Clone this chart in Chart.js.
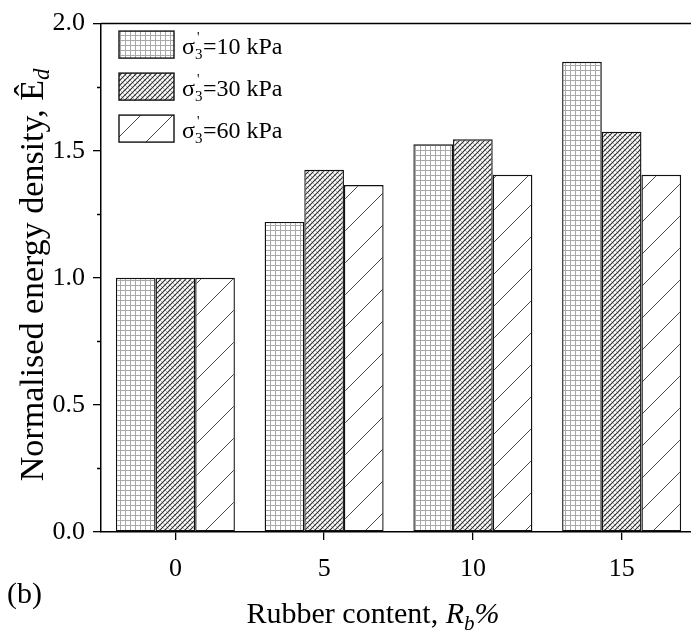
<!DOCTYPE html>
<html>
<head>
<meta charset="utf-8">
<script src="https://cdn.jsdelivr.net/npm/chart.js@4"></script>
<style>
  html, body { margin: 0; padding: 0; background: #fff; overflow: hidden; }
  #wrap { width: 700px; height: 639px; }
</style>
</head>
<body>
<div id="wrap"><canvas id="energyChart" width="700" height="639"></canvas></div>
<script>
// rubber content categories and normalised energy density per confining pressure
const rubberContent = ['0', '5', '10', '15'];
const ed10kPa = [1.0, 1.22, 1.525, 1.85];
const ed30kPa = [1.0, 1.425, 1.545, 1.575];
const ed60kPa = [1.0, 1.365, 1.405, 1.405];
const pressureLabels = ['10 kPa', '30 kPa', '60 kPa'];
const yTicks = [0, 0.5, 1.0, 1.5, 2.0];

const SERIF = '"Liberation Serif", "Times New Roman", serif';

function makePattern(size, draw) {
    const c = document.createElement('canvas');
    c.width = size;
    c.height = size;
    const g = c.getContext('2d');
    g.fillStyle = '#fff';
    g.fillRect(0, 0, size, size);
    draw(g, size);
    return c.getContext('2d').createPattern(c, 'repeat');
}

// fine square grid
const gridFill = makePattern(5, function (g, s) {
    g.strokeStyle = '#a8a8a8';
    g.lineWidth = 1;
    g.beginPath();
    g.moveTo(0.5, 0); g.lineTo(0.5, s);
    g.moveTo(0, 0.5); g.lineTo(s, 0.5);
    g.stroke();
});

// dense crosshatch
const hatchFill = makePattern(5, function (g, s) {
    g.lineWidth = 0.8;
    g.strokeStyle = '#a0a0a0';
    g.beginPath();
    g.moveTo(-1, -1); g.lineTo(s + 1, s + 1);
    g.stroke();
    g.lineWidth = 1.1;
    g.strokeStyle = '#2a2a2a';
    g.beginPath();
    g.moveTo(-1, s + 1); g.lineTo(s + 1, -1);
    g.moveTo(-3, 3); g.lineTo(3, -3);
    g.moveTo(s - 3, s + 3); g.lineTo(s + 3, s - 3);
    g.stroke();
});

// sparse forward slashes
const slashFill = makePattern(32, function (g, s) {
    g.lineWidth = 0.9;
    g.strokeStyle = '#333';
    g.beginPath();
    g.moveTo(0, s); g.lineTo(s, 0);
    g.moveTo(-4, 4); g.lineTo(4, -4);
    g.moveTo(s - 4, s + 4); g.lineTo(s + 4, s - 4);
    g.stroke();
});

const fills = [gridFill, hatchFill, slashFill];

const frameAndLegend = {
    id: 'frameAndLegend',
    afterDraw(chart) {
        const ctx = chart.ctx;
        const a = chart.chartArea;
        const y = chart.scales.y;
        ctx.save();
        ctx.strokeStyle = '#000';

        // top and right frame
        ctx.lineWidth = 1.5;
        ctx.beginPath();
        ctx.moveTo(a.left, a.top); ctx.lineTo(a.right, a.top); ctx.lineTo(a.right, a.bottom);
        ctx.stroke();

        // minor ticks on y
        ctx.lineWidth = 1.3;
        ctx.beginPath();
        for (let v = 0.25; v < 2; v += 0.5) {
            const py = Math.round(y.getPixelForValue(v)) + 0.5;
            ctx.moveTo(a.left, py); ctx.lineTo(a.left - 4, py);
        }
        ctx.stroke();

        // legend
        const bx = a.left + 18, bw = 55, bh = 27;
        pressureLabels.forEach(function (lab, i) {
            const by = a.top + 7.5 + i * 42;
            ctx.fillStyle = fills[i];
            ctx.fillRect(bx, by, bw, bh);
            ctx.lineWidth = 1.4;
            ctx.strokeStyle = '#111';
            ctx.strokeRect(bx, by, bw, bh);

            const tx = bx + 63, base = by + 23;
            ctx.fillStyle = '#000';
            ctx.textBaseline = 'alphabetic';
            ctx.textAlign = 'left';
            ctx.font = '24px ' + SERIF;
            ctx.fillText('σ', tx, base);
            const ws = ctx.measureText('σ').width;
            ctx.font = '15px ' + SERIF;
            ctx.fillText('3', tx + ws, base + 5);
            ctx.font = '14px ' + SERIF;
            ctx.fillText("'", tx + ws + 2, base - 12);
            ctx.font = '24px ' + SERIF;
            ctx.fillText('=' + lab, tx + ws + 8, base);
        });

        // y title
        ctx.save();
        ctx.translate(43, (a.top + a.bottom) / 2 - 3);
        ctx.rotate(-Math.PI / 2);
        ctx.font = '34px ' + SERIF;
        const main = 'Normalised energy density, Ê';
        const wm = ctx.measureText(main).width;
        ctx.font = 'italic 23px ' + SERIF;
        const wd = ctx.measureText('d').width;
        const x0 = -(wm + wd) / 2;
        ctx.font = '34px ' + SERIF;
        ctx.fillText(main, x0, 0);
        ctx.font = 'italic 23px ' + SERIF;
        ctx.fillText('d', x0 + wm, 6);
        ctx.restore();

        // x title
        const parts = [
            ['Rubber content, ', '30px ' + SERIF, 0],
            ['R', 'italic 30px ' + SERIF, 0],
            ['b', 'italic 21px ' + SERIF, 7],
            ['%', 'italic 30px ' + SERIF, 0]
        ];
        let total = 0;
        parts.forEach(function (p) { ctx.font = p[1]; total += ctx.measureText(p[0]).width; });
        let cx = 373 - total / 2;
        parts.forEach(function (p) {
            ctx.font = p[1];
            ctx.fillText(p[0], cx, 623 + p[2]);
            cx += ctx.measureText(p[0]).width;
        });

        // panel tag
        ctx.font = '30px ' + SERIF;
        ctx.fillText('(b)', 7, 603);
        ctx.restore();
    }
};

new Chart(document.getElementById('energyChart'), {
    type: 'bar',
    data: {
        labels: rubberContent,
        datasets: [ed10kPa, ed30kPa, ed60kPa].map(function (vals, i) {
            return {
                label: pressureLabels[i],
                data: vals,
                backgroundColor: fills[i],
                borderColor: '#111',
                borderWidth: 1.4,
                borderSkipped: false,
                categoryPercentage: 0.8,
                barPercentage: 1.0
            };
        })
    },
    options: {
        responsive: false,
        devicePixelRatio: 1,
        animation: false,
        layout: { padding: { top: 19, right: 4, left: 0, bottom: 0 } },
        plugins: {
            legend: { display: false },
            tooltip: { enabled: false }
        },
        scales: {
            x: {
                offset: true,
                afterFit(scale) { scale.height = 107; },
                grid: {
                    offset: false,
                    drawOnChartArea: false,
                    drawTicks: true,
                    tickLength: 8,
                    color: '#000',
                    lineWidth: 1.3
                },
                border: { display: true, color: '#000', width: 1.5 },
                ticks: {
                    color: '#000',
                    padding: 14,
                    font: { family: SERIF, size: 26 }
                }
            },
            y: {
                min: 0,
                max: 2,
                afterFit(scale) { scale.width = 101; },
                afterBuildTicks(scale) {
                    scale.ticks = yTicks.map(function (v) { return { value: v }; });
                },
                grid: {
                    drawOnChartArea: false,
                    drawTicks: true,
                    tickLength: 8,
                    color: '#000',
                    lineWidth: 1.3
                },
                border: { display: true, color: '#000', width: 1.5 },
                ticks: {
                    color: '#000',
                    padding: 8,
                    font: { family: SERIF, size: 26 },
                    callback: function (v) { return Number(v).toFixed(1); }
                }
            }
        }
    },
    plugins: [frameAndLegend]
});
</script>
</body>
</html>
